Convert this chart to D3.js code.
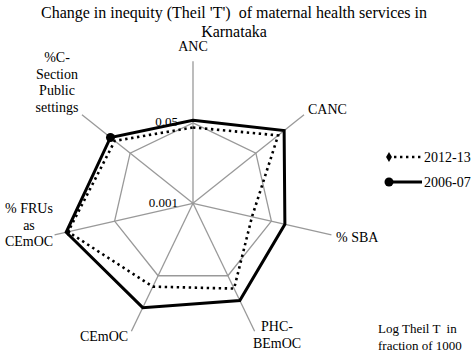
<!DOCTYPE html>
<html><head><meta charset="utf-8">
<script src="https://cdn.jsdelivr.net/npm/d3@7/dist/d3.min.js"></script>
<style>body{margin:0;background:#fff}svg{display:block}svg text{font-family:Liberation Serif, DejaVu Serif, serif}</style>
</head><body><svg id="c" width="473" height="361"></svg>
<script>
const categories = ["ANC","CANC","% SBA","PHC-BEmOC","CEmOC","% FRUs as CEmOC","%C-Section Public settings"];
const series2012 = [0.040, 0.20, 0.019, 0.10, 0.090, 0.51, 0.13];
const series2006 = [0.057, 0.29, 0.098, 0.19, 0.28, 0.56, 0.17];
const seriesNames = ["2012-13","2006-07"];
const tickValues = [0.001, 0.05];
const tickLabels = ["0.001","0.05"];

const svg = d3.select("#c");
const FF = "Liberation Serif";
const cx = 193, cy = 203.3, R = 142;
const r = d3.scaleLog().domain([0.001, 1]).range([0, R]);
const ang = d3.scaleLinear().domain([0, categories.length]).range([-Math.PI/2, 1.5*Math.PI]);
const pt = (i, v) => [cx + r(v)*Math.cos(ang(i)), cy + r(v)*Math.sin(ang(i))];
const txt = (sel) => sel.append("text").attr("font-family", FF).style("font-family", FF).attr("fill","#000");

// title
txt(svg).attr("x", 234).attr("y", 18).attr("text-anchor","middle").attr("font-size",16)
  .style("white-space","pre").text("Change in inequity (Theil 'T')  of maternal health services in");
txt(svg).attr("x", 234).attr("y", 37).attr("text-anchor","middle").attr("font-size",16).text("Karnataka");

const grid = svg.append("g").attr("stroke","#999").attr("stroke-width",1.3).attr("fill","none");
categories.forEach((c,i)=>{
  const e = pt(i, 1);
  grid.append("line").attr("x1",cx).attr("y1",cy).attr("x2",e[0]).attr("y2",e[1]);
});
grid.append("path").attr("d", d3.line()(categories.map((c,i)=>pt(i, tickValues[1]))) + "Z");

// tick labels
txt(svg).attr("x", cx-15).attr("y", cy+4).attr("text-anchor","end").attr("font-size",13).text(tickLabels[0]);
txt(svg).attr("x", cx-15).attr("y", cy - r(tickValues[1]) + 3).attr("text-anchor","end").attr("font-size",13).text(tickLabels[1]);

// series
const lineGen = d3.line().curve(d3.curveLinearClosed);
svg.append("path").attr("d", lineGen(series2006.map((v,i)=>pt(i,v))))
  .attr("fill","none").attr("stroke","#000").attr("stroke-width",3).attr("stroke-linejoin","miter");
svg.append("path").attr("d", lineGen(series2012.map((v,i)=>pt(i,v))))
  .attr("fill","none").attr("stroke","#000").attr("stroke-width",2.6).attr("stroke-dasharray","2.4,3.6");
const cs = pt(6, series2006[6]);
svg.append("circle").attr("cx",cs[0]).attr("cy",cs[1]).attr("r",4.5).attr("fill","#000");
const fr = pt(5, series2012[5]);
svg.append("path").attr("d", d3.symbol(d3.symbolDiamond, 22)()).attr("transform",`translate(${fr[0]},${fr[1]})`).attr("fill","#000");

// axis labels
const lab = [
  {lines:["ANC"], x:193, y:51, a:"middle", dy:16},
  {lines:["CANC"], x:308, y:114, a:"start", dy:16},
  {lines:["% SBA"], x:336, y:242, a:"start", dy:16},
  {lines:["PHC-","BEmOC"], x:277, y:331, a:"middle", dy:16.5},
  {lines:["CEmOC"], x:104, y:341, a:"middle", dy:16},
  {lines:["% FRUs","as","CEmOC"], x:29, y:213, a:"middle", dy:16.5},
  {lines:["%C-","Section","Public","settings"], x:57, y:62, a:"middle", dy:16.7}
];
lab.forEach(l=>{
  const t = txt(svg).attr("text-anchor", l.a).attr("font-size",14);
  l.lines.forEach((s,k)=>t.append("tspan").attr("x", l.x).attr("y", l.y + k*l.dy).text(s));
});

// legend
const lg = svg.append("g");
lg.append("line").attr("x1",388).attr("x2",422).attr("y1",157).attr("y2",157).attr("stroke","#000").attr("stroke-width",2.6).attr("stroke-dasharray","2.4,3.6");
lg.append("path").attr("d", d3.symbol(d3.symbolDiamond, 30)()).attr("transform","translate(389,157)").attr("fill","#000");
txt(lg).attr("x",424).attr("y",162).attr("font-size",14).text(seriesNames[0]);
lg.append("line").attr("x1",388).attr("x2",422).attr("y1",182).attr("y2",182).attr("stroke","#000").attr("stroke-width",3);
lg.append("circle").attr("cx",389).attr("cy",182).attr("r",4.5).attr("fill","#000");
txt(lg).attr("x",424).attr("y",187).attr("font-size",14).text(seriesNames[1]);

// note
txt(svg).attr("x",378).attr("y",333).attr("font-size",13).style("white-space","pre").text("Log Theil T  in");
txt(svg).attr("x",378).attr("y",350).attr("font-size",13).text("fraction of 1000");
</script></body></html>
